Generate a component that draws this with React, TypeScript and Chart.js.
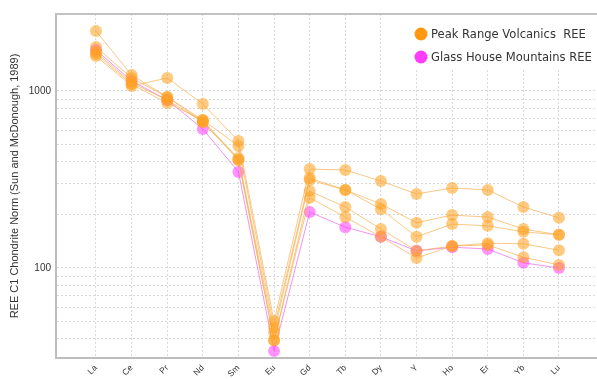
import React, { useEffect, useRef } from "react";
import { Chart, registerables } from "chart.js";

Chart.register(...registerables);

// Rare earth elements, in plotting order
const elements = ["La", "Ce", "Pr", "Nd", "Sm", "Eu", "Gd", "Tb", "Dy", "Y", "Ho", "Er", "Yb", "Lu"];

// Peak Range Volcanics samples (chondrite-normalised)
const prvA = [1577, 1067, 1184, 845, 522, 50, 362, 358, 310, 262, 283, 276, 221, 192];
const prvB = [2183, 1231, 925, 686, 489, 46, 322, 276, 230, 180, 199, 194, 166, 154];
const prvC = [1773, 1184, 925, 668, 418, 43, 314, 276, 215, 150, 177, 173, 160, 154];
const prvD = [1661, 1110, 890, 668, 408, 39, 272, 221, 166, 125, 133, 138, 137, 126];
const prvE = [1620, 1090, 855, 686, 408, 39, 249, 194, 150, 114, 133, 135, 115, 104];

// Glass House Mountains sample
const ghm = [1704, 1139, 890, 610, 349, 34, 207, 170, 150, 125, 131, 128, 107, 100];

const prvSeries = [prvA, prvB, prvC, prvD, prvE];

// Log axis grid values and the ones that carry a label
const yGridValues = [40, 50, 60, 70, 80, 90, 100, 200, 300, 400, 500, 600, 700, 800, 900, 1000];
const yLabelled = [100, 1000];

const legendNames = ["Peak Range Volcanics  REE", "Glass House Mountains REE"];
const yTitle = "REE C1 Chondrite Norm (Sun and McDonough, 1989)";

const PRV_POINT = "rgba(255, 160, 30, 0.55)";
const PRV_LINE = "rgba(245, 170, 70, 0.65)";
const GHM_POINT = "rgba(255, 60, 255, 0.55)";
const GHM_LINE = "rgba(235, 120, 235, 0.8)";
const GRID = "#dadada";

// The plot runs on past the right edge of the visible frame
const CANVAS_W = 610;
const VIEW_W = 597;
const VIEW_H = 379;

const toPoints = (vals: number[]) => vals.map((v, i) => ({ x: i, y: v }));

const framePlugin = {
  id: "frameAndLegend",
  afterDraw(chart: any) {
    const { ctx, chartArea } = chart;
    ctx.save();
    // top frame line
    ctx.strokeStyle = "#c2c2c2";
    ctx.lineWidth = 2;
    ctx.beginPath();
    ctx.moveTo(chartArea.left, chartArea.top);
    ctx.lineTo(chart.width, chartArea.top);
    ctx.stroke();

    // legend panel
    ctx.fillStyle = "#ffffff";
    ctx.fillRect(405, chartArea.top + 1, chart.width - 405, 68 - chartArea.top - 1);

    const colors = ["#ff9a10", "#ff3cff"];
    const rows = [34, 57];
    let size = 12;
    ctx.font = `${size}px "DejaVu Sans"`;
    const w = ctx.measureText(legendNames[0]).width;
    size = (size * 155) / w;
    ctx.font = `${size}px "DejaVu Sans"`;
    ctx.textBaseline = "middle";
    ctx.textAlign = "left";
    legendNames.forEach((name, k) => {
      ctx.fillStyle = colors[k];
      ctx.beginPath();
      ctx.arc(421, rows[k], 6.5, 0, Math.PI * 2);
      ctx.fill();
      ctx.fillStyle = "#333333";
      ctx.fillText(name, 431, rows[k] + 0.5);
    });
    ctx.restore();
  },
};

export default function App() {
  const canvasRef = useRef<HTMLCanvasElement | null>(null);

  useEffect(() => {
    if (!canvasRef.current) return;
    const datasets: any[] = prvSeries.map((s, k) => ({
      label: k === 0 ? legendNames[0] : `${legendNames[0]} ${k + 1}`,
      data: toPoints(s),
      borderColor: PRV_LINE,
      borderWidth: 1,
      backgroundColor: PRV_POINT,
      pointBackgroundColor: PRV_POINT,
      pointBorderWidth: 0,
      pointRadius: 6,
      pointHoverRadius: 6,
      tension: 0,
    }));
    datasets.push({
      label: legendNames[1],
      data: toPoints(ghm),
      borderColor: GHM_LINE,
      borderWidth: 1,
      backgroundColor: GHM_POINT,
      pointBackgroundColor: GHM_POINT,
      pointBorderWidth: 0,
      pointRadius: 6,
      pointHoverRadius: 6,
      tension: 0,
    });

    const chart = new Chart(canvasRef.current, {
      type: "line",
      data: { datasets },
      plugins: [framePlugin],
      options: {
        animation: false,
        responsive: false,
        devicePixelRatio: 1,
        layout: { padding: { top: 14, left: 0, right: 0, bottom: 0 }, autoPadding: false },
        plugins: { legend: { display: false }, tooltip: { enabled: false } },
        scales: {
          x: {
            type: "linear",
            min: -1.123,
            max: (CANVAS_W - 96) / 35.615,
            afterBuildTicks: (scale: any) => {
              scale.ticks = elements.map((_, i) => ({ value: i }));
            },
            afterFit: (scale: any) => {
              scale.height = 21;
            },
            ticks: {
              autoSkip: false,
              minRotation: 45,
              maxRotation: 45,
              padding: 5,
              color: "#333",
              font: { family: "Liberation Sans", size: 8.5 },
              callback: (v: any) => elements[v] ?? "",
            },
            grid: {
              color: (c: any) =>
                c.tick && c.tick.value >= 0 && c.tick.value < elements.length ? GRID : "rgba(0,0,0,0)",
              lineWidth: 1,
              drawTicks: false,
            },
            border: { display: true, color: "#bdbdbd", width: 2, dash: [2, 2] },
          },
          y: {
            type: "logarithmic",
            min: 31,
            max: 2723,
            afterBuildTicks: (scale: any) => {
              scale.ticks = yGridValues.map((v) => ({ value: v, major: false }));
            },
            afterFit: (scale: any) => {
              scale.width = 56;
            },
            ticks: {
              autoSkip: false,
              padding: 5,
              color: "#333",
              font: { family: "Liberation Sans", size: 10 },
              callback: (v: any) => (yLabelled.includes(Number(v)) ? String(v) : ""),
            },
            title: {
              display: true,
              text: yTitle,
              color: "#333",
              font: { family: "Liberation Sans", size: 11 },
              padding: { top: 8, bottom: 0 },
            },
            grid: { color: GRID, lineWidth: 1, drawTicks: false },
            border: { display: true, color: "#bdbdbd", width: 2, dash: [2, 2] },
          },
        },
      },
    });
    return () => chart.destroy();
  }, []);

  return (
    <div
      style={{
        position: "fixed",
        left: 0,
        top: 0,
        width: VIEW_W,
        height: VIEW_H,
        overflow: "hidden",
        background: "#fff",
      }}
    >
      <canvas
        ref={canvasRef}
        width={CANVAS_W}
        height={VIEW_H}
        style={{ width: CANVAS_W, height: VIEW_H, display: "block" }}
      />
    </div>
  );
}
